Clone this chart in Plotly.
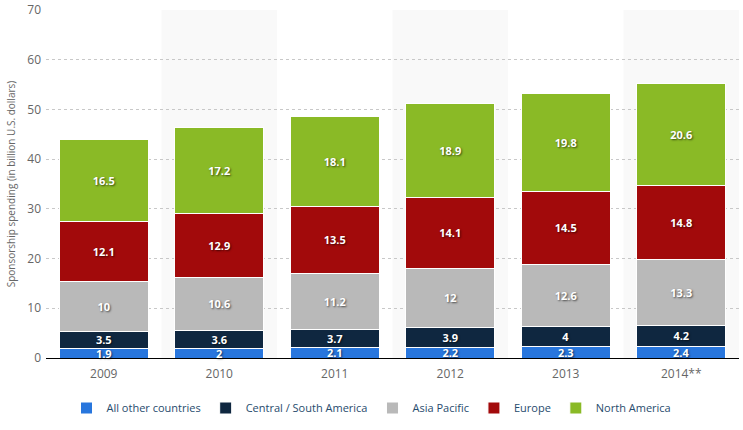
import plotly.graph_objects as go

years = ["2009", "2010", "2011", "2012", "2013", "2014**"]
all_other = [1.9, 2, 2.1, 2.2, 2.3, 2.4]
central_south = [3.5, 3.6, 3.7, 3.9, 4, 4.2]
asia_pacific = [10, 10.6, 11.2, 12, 12.6, 13.3]
europe = [12.1, 12.9, 13.5, 14.1, 14.5, 14.8]
north_america = [16.5, 17.2, 18.1, 18.9, 19.8, 20.6]

series = [
    ("All other countries", all_other, "#2876dd"),
    ("Central / South America", central_south, "#0f2740"),
    ("Asia Pacific", asia_pacific, "#b9b9b9"),
    ("Europe", europe, "#a20a0b"),
    ("North America", north_america, "#8aba26"),
]

fig = go.Figure()
for name, vals, color in series:
    fig.add_trace(go.Bar(
        x=years, y=vals, name=name,
        marker=dict(color=color, line=dict(color="white", width=1)),
        text=[str(v) for v in vals], textposition="inside", textangle=0,
        insidetextanchor="middle", constraintext="none",
        textfont=dict(color="white", size=11, family="Open Sans, Arial", weight="bold",
                      shadow="1px 1px 2px rgba(0,0,0,0.6)"),
        cliponaxis=False,
    ))

shapes = []
for i in range(1, len(years), 2):
    shapes.append(dict(type="rect", xref="x", yref="paper", x0=i - 0.5, x1=i + 0.5,
                       y0=0, y1=1, fillcolor="#f9f9f9", line=dict(width=0), layer="below"))

W, H = 743, 430
fig.update_layout(
    barmode="stack", bargap=0.23,
    width=W, height=H,
    margin=dict(l=46, r=4, t=10, b=72, autoexpand=False),
    plot_bgcolor="white", paper_bgcolor="white",
    shapes=shapes,
    font=dict(family="Open Sans, Arial", color="#666666", size=12),
    legend=dict(orientation="h", x=0.5, xanchor="center", xref="container",
                y=22 / H, yanchor="middle", yref="container",
                font=dict(color="#274b6d", size=11), traceorder="normal",
                itemwidth=30, tracegroupgap=0),
    xaxis=dict(showgrid=False, showline=True, linecolor="black", linewidth=1,
               ticks="", ticklabelstandoff=5,
               tickfont=dict(size=12, color="#666666"), automargin=False),
    yaxis=dict(range=[0, 70], dtick=10, showgrid=True, gridcolor="#c8c8c8",
               griddash="dot", gridwidth=1, zeroline=False, automargin=False,
               ticklabelstandoff=4,
               tickfont=dict(size=12, color="#666666"),
               title=dict(text="Sponsorship spending (in billion U.S. dollars)",
                          font=dict(size=10, color="#666666"), standoff=9)),
)

fig.write_html("out.html", config={"displayModeBar": False},
               post_script="document.body.style.margin='0px';")
